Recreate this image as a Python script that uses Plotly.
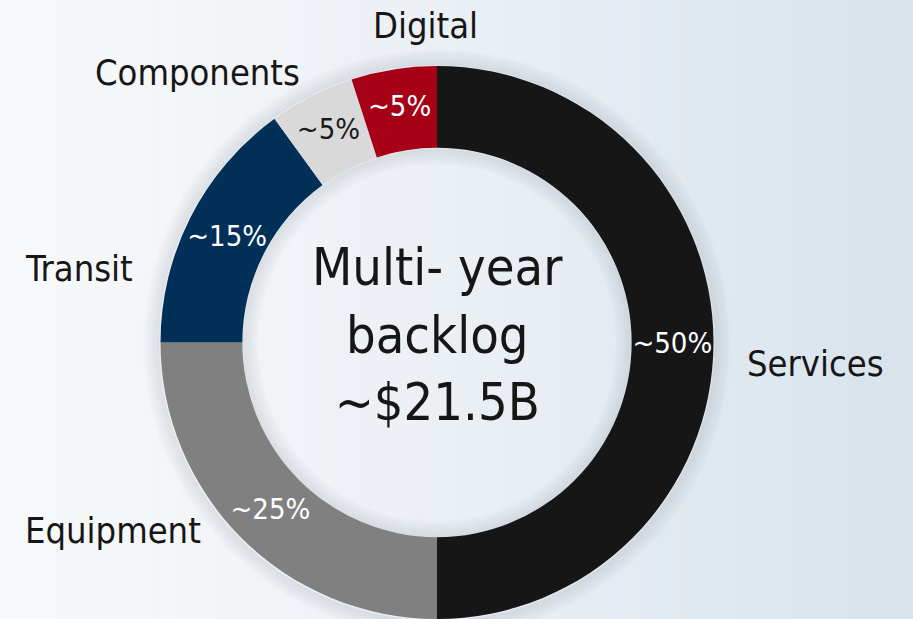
import plotly.graph_objects as go

# ---- data ----
segments = ["Services", "Equipment", "Transit", "Components", "Digital"]
shares = [50, 25, 15, 5, 5]
share_labels = ["~50%", "~25%", "~15%", "~5%", "~5%"]
center_lines = ["Multi- year", "backlog", "~$21.5B"]

colors = ["#161616", "#808080", "#003057", "#d9d9d9", "#a50016"]
text_colors = ["#ffffff", "#ffffff", "#ffffff", "#1a1a1a", "#ffffff"]

W, H = 913, 619
cx, cy = 437, 343          # donut centre in pixels (from top-left)
R_out, R_in = 277, 195
FONT = "DejaVu Sans Condensed, DejaVu Sans, sans-serif"

cy_b = H - cy
fig = go.Figure()

fig.add_trace(go.Pie(
    labels=segments,
    values=shares,
    text=share_labels,
    textinfo="text",
    textposition="inside",
    insidetextorientation="horizontal",
    textfont=dict(family=FONT, size=29, color=text_colors),
    marker=dict(colors=colors, line=dict(width=0)),
    hole=R_in / R_out,
    sort=False,
    direction="clockwise",
    rotation=0,
    showlegend=False,
    hoverinfo="label+percent",
    domain=dict(x=[(cx - R_out) / W, (cx + R_out) / W],
                y=[max(0, (cy_b - R_out) / H), (cy_b + R_out) / H]),
))

shapes = []
# background gradient (left near-white -> right light blue-grey)
n = 60
c0 = (247, 248, 250)
c1 = (216, 227, 236)
for i in range(n):
    t = i / (n - 1)
    t2 = t ** 1.3
    col = tuple(int(round(c0[k] + (c1[k] - c0[k]) * t2)) for k in range(3))
    shapes.append(dict(type="rect", xref="paper", yref="paper",
                       x0=i / n, x1=(i + 1) / n + 0.002, y0=0, y1=1,
                       fillcolor="rgb(%d,%d,%d)" % col, line=dict(width=0),
                       layer="below"))
# soft glow around ring
for d in range(1, 18):
    a = 0.08 * (1 - d / 18)
    for r in (R_out + d, R_in - d):
        shapes.append(dict(type="circle", xref="paper", yref="paper",
                           x0=(cx - r) / W, x1=(cx + r) / W,
                           y0=(cy_b - r) / H, y1=(cy_b + r) / H,
                           line=dict(color="rgba(90,100,115,%.3f)" % a, width=2),
                           fillcolor="rgba(0,0,0,0)", layer="below"))

annotations = [
    dict(text="<br>".join(center_lines), x=cx / W, y=(H - 334) / H,
         xref="paper", yref="paper", showarrow=False,
         font=dict(family=FONT, size=52, color="#161616"), align="center"),
]
label_pos = {
    "Digital": (425, 25),
    "Components": (197, 72),
    "Transit": (79, 268),
    "Services": (815, 363),
    "Equipment": (113, 530),
}
for name in segments:
    px, py = label_pos[name]
    annotations.append(dict(text=name, x=px / W, y=(H - py) / H,
                            xref="paper", yref="paper", showarrow=False,
                            xanchor="center", yanchor="middle",
                            font=dict(family=FONT, size=36, color="#161616")))

fig.update_layout(
    width=W, height=H,
    margin=dict(l=0, r=0, t=0, b=0),
    paper_bgcolor="#eef2f5",
    plot_bgcolor="rgba(0,0,0,0)",
    shapes=shapes,
    annotations=annotations,
    uniformtext=dict(minsize=29, mode="show"),
)

fig.write_html("out.html",
               config={"displayModeBar": False},
               post_script="document.body.style.margin='0';document.body.style.overflow='hidden';")
